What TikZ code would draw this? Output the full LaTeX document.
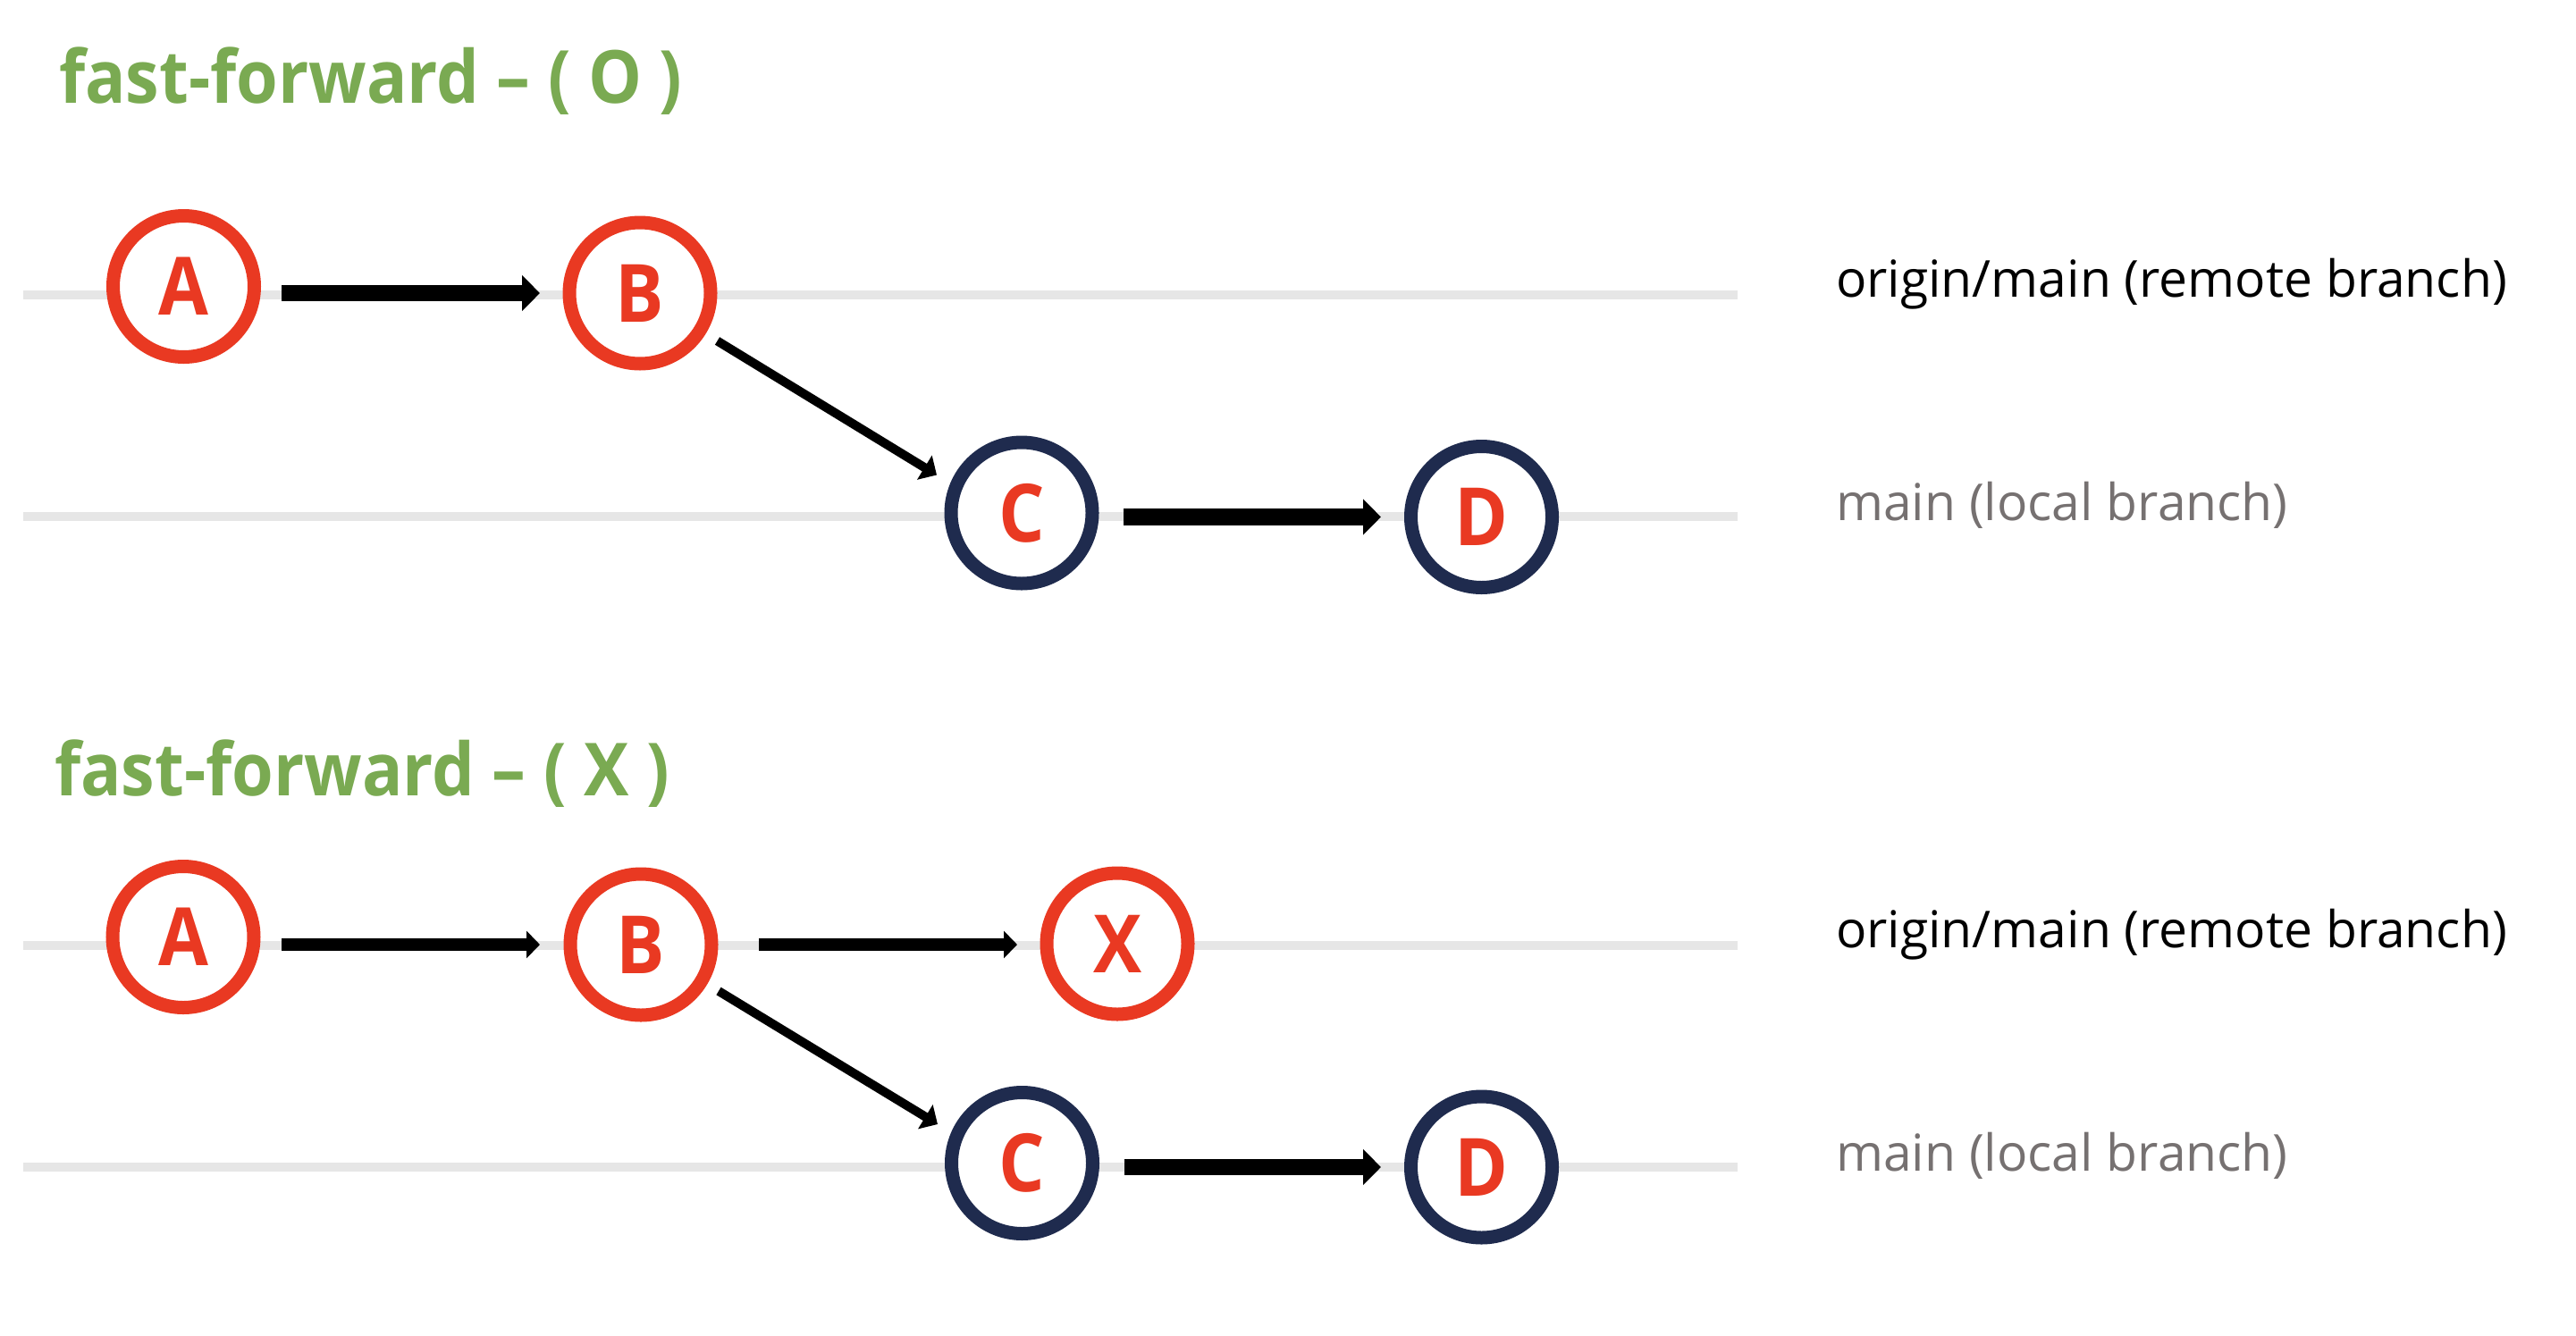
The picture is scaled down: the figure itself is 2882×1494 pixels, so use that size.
\documentclass[tikz,border=0pt]{standalone}
\usepackage{fontspec}
\setmainfont{Open Sans}
\newfontfamily\narrowfont[FakeStretch=0.9]{Open Sans}
\newfontfamily\titlefontfam[FakeStretch=0.92]{Open Sans}
\usetikzlibrary{arrows.meta}
\definecolor{cred}{HTML}{E93922}
\definecolor{cnavy}{HTML}{1F2B4E}
\definecolor{cgreen}{HTML}{7AAA52}
\definecolor{crail}{HTML}{E6E6E6}
\definecolor{cgraytxt}{HTML}{767171}
\tikzset{
  rail/.style={draw=crail, line width=10pt},
  commit/.style={circle, fill=white, line width=15pt, minimum size=158pt, inner sep=0pt, outer sep=0pt,
     font=\narrowfont\bfseries\fontsize{90}{90}\selectfont, text=cred},
  remotec/.style={commit, draw=cred},
  localc/.style={commit, draw=cnavy},
  bigarr/.style={draw=black, line width=18.5pt, -{Triangle[length=20pt,width=39pt]}},
  medarr/.style={draw=black, line width=14.5pt, -{Triangle[length=15pt,width=30pt]}},
  diagarr/.style={draw=black, line width=10pt, -{Triangle[length=16pt,width=31pt]}},
  title/.style={anchor=base west, inner sep=0pt, text=cgreen, font=\titlefontfam\bfseries\fontsize{82}{90}\selectfont},
  lbl/.style={anchor=base west, inner sep=0pt, font=\fontsize{57}{60}\selectfont},
}
\begin{document}
\begin{tikzpicture}[x=1pt, y=-1pt]
\useasboundingbox[fill=white] (0,0) rectangle (2882,1494);

% titles
\node[title] (t1) at (66,115) {fast-forward – ( O )};
\node[title] (t2) at (61,890) {fast-forward – ( X )};

% rails
\coordinate (r1a) at (26,330);  \coordinate (r1b) at (1944,330);
\coordinate (r2a) at (26,578);  \coordinate (r2b) at (1944,578);
\coordinate (r3a) at (26,1058); \coordinate (r3b) at (1944,1058);
\coordinate (r4a) at (26,1306); \coordinate (r4b) at (1944,1306);
\draw[rail] (r1a) -- (r1b);
\draw[rail] (r2a) -- (r2b);
\draw[rail] (r3a) -- (r3b);
\draw[rail] (r4a) -- (r4b);

% top diagram
\node[remotec] (A1) at (205.5,320.5) {A};
\node[remotec] (B1) at (716,328) {B};
\node[localc]  (C1) at (1143,574) {C};
\node[localc]  (D1) at (1657.5,578.5) {D};

\draw[bigarr, shorten <=109.5pt, shorten >=112pt] (A1.center |- B1.center) -- (B1.center);
\draw[diagarr] ([shift={(86.5,53.5)}]B1.center) -- ([shift={(-95,-42.5)}]C1.center);
\draw[bigarr, shorten <=114pt, shorten >=112.5pt] (C1.center |- D1.center) -- (D1.center);

\node[lbl] (l1) at (2054,332) {origin/main (remote branch)};
\node[lbl, text=cgraytxt] (l2) at (2054,582) {main (local branch)};

% bottom diagram
\node[remotec] (A2) at (205,1048.5) {A};
\node[remotec] (B2) at (717,1057) {B};
\node[remotec] (X2) at (1250,1056) {X};
\node[localc]  (C2) at (1143.5,1301.5) {C};
\node[localc]  (D2) at (1657.5,1306) {D};

\draw[medarr, shorten <=110pt, shorten >=113pt] (A2.center |- B2.center) -- (B2.center);
\draw[medarr, shorten <=132pt, shorten >=112pt] (B2.center) -- (X2.center |- B2.center);
\draw[diagarr] ([shift={(87,52)}]B2.center) -- ([shift={(-94.5,-43.5)}]C2.center);
\draw[bigarr, shorten <=114pt, shorten >=112.5pt] (C2.center |- D2.center) -- (D2.center);

\node[lbl] (l3) at (2054,1060) {origin/main (remote branch)};
\node[lbl, text=cgraytxt] (l4) at (2054,1310) {main (local branch)};
\end{tikzpicture}
\end{document}
